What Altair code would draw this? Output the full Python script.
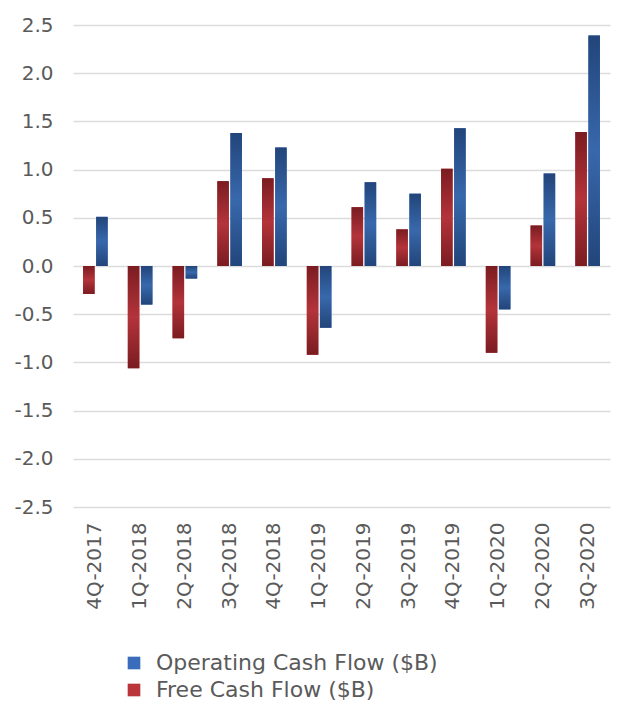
import altair as alt
import pandas as pd

quarters = ["4Q-2017", "1Q-2018", "2Q-2018", "3Q-2018", "4Q-2018", "1Q-2019",
            "2Q-2019", "3Q-2019", "4Q-2019", "1Q-2020", "2Q-2020", "3Q-2020"]
operating_cf = [0.51, -0.40, -0.13, 1.38, 1.23, -0.64, 0.87, 0.75, 1.43, -0.45, 0.96, 2.39]
free_cf = [-0.29, -1.06, -0.75, 0.88, 0.91, -0.92, 0.61, 0.38, 1.01, -0.90, 0.42, 1.39]

OP = "Operating Cash Flow ($B)"
FR = "Free Cash Flow ($B)"

rows = []
for q, o, f in zip(quarters, operating_cf, free_cf):
    rows.append({"quarter": q, "series": FR, "value": f})
    rows.append({"quarter": q, "series": OP, "value": o})
df = pd.DataFrame(rows)

blue_grad = {"gradient": "linear", "x1": 0, "y1": 0, "x2": 0, "y2": 1,
             "stops": [{"offset": 0, "color": "#22457a"},
                       {"offset": 0.5, "color": "#3868ac"},
                       {"offset": 1, "color": "#22457a"}]}
red_grad = {"gradient": "linear", "x1": 0, "y1": 0, "x2": 0, "y2": 1,
            "stops": [{"offset": 0, "color": "#7a1c21"},
                      {"offset": 0.5, "color": "#b3343a"},
                      {"offset": 1, "color": "#7a1c21"}]}

font = "DejaVu Sans"
text_color = "#5a5a5a"
fs = 20

x_enc = alt.X("quarter:N", sort=quarters, title=None,
              scale=alt.Scale(paddingInner=0.45, paddingOuter=0.225),
              axis=alt.Axis(labelAngle=-90, labelPadding=15, ticks=False, domain=False,
                            labelFontSize=fs, labelFont=font, labelColor=text_color))
xoff_enc = alt.XOffset("series:N", sort=[FR, OP], scale=alt.Scale(paddingInner=0.12))
y_enc = alt.Y("value:Q", title=None,
              scale=alt.Scale(domain=[-2.5, 2.5], nice=False),
              axis=alt.Axis(values=[-2.5, -2.0, -1.5, -1.0, -0.5, 0, 0.5, 1.0, 1.5, 2.0, 2.5],
                            format=".1f", labelExpr="replace(datum.label, '\u2212', '-')",
                            ticks=False, domain=False, labelPadding=20,
                            labelFontSize=fs, labelFont=font, labelColor=text_color,
                            gridColor="#dcdcdc", gridWidth=1.5))

base = alt.Chart(df).mark_bar().encode(
    x=x_enc, xOffset=xoff_enc, y=y_enc,
    color=alt.Color("series:N",
                    scale=alt.Scale(domain=[OP, FR], range=["#3a6cbc", "#b9353b"]),
                    legend=alt.Legend(title=None, orient="none", legendX=50, legendY=627,
                                      direction="vertical", symbolType="square",
                                      symbolSize=160, labelFontSize=22, labelFont=font,
                                      labelColor=text_color, rowPadding=5, labelOffset=11,
                                      labelLimit=0, symbolStrokeWidth=0)),
)

overlay = alt.Chart(df).mark_bar().encode(
    x=x_enc, xOffset=xoff_enc, y=y_enc,
    fill=alt.condition(alt.datum.series == OP, alt.value(blue_grad), alt.value(red_grad)),
)

chart = alt.layer(base, overlay).properties(
    width=537, height=482,
    padding={"left": 5, "top": 7, "right": 5, "bottom": 5},
).configure_view(stroke=None)

chart.save("out.html", embed_options={"renderer": "svg", "actions": False})
